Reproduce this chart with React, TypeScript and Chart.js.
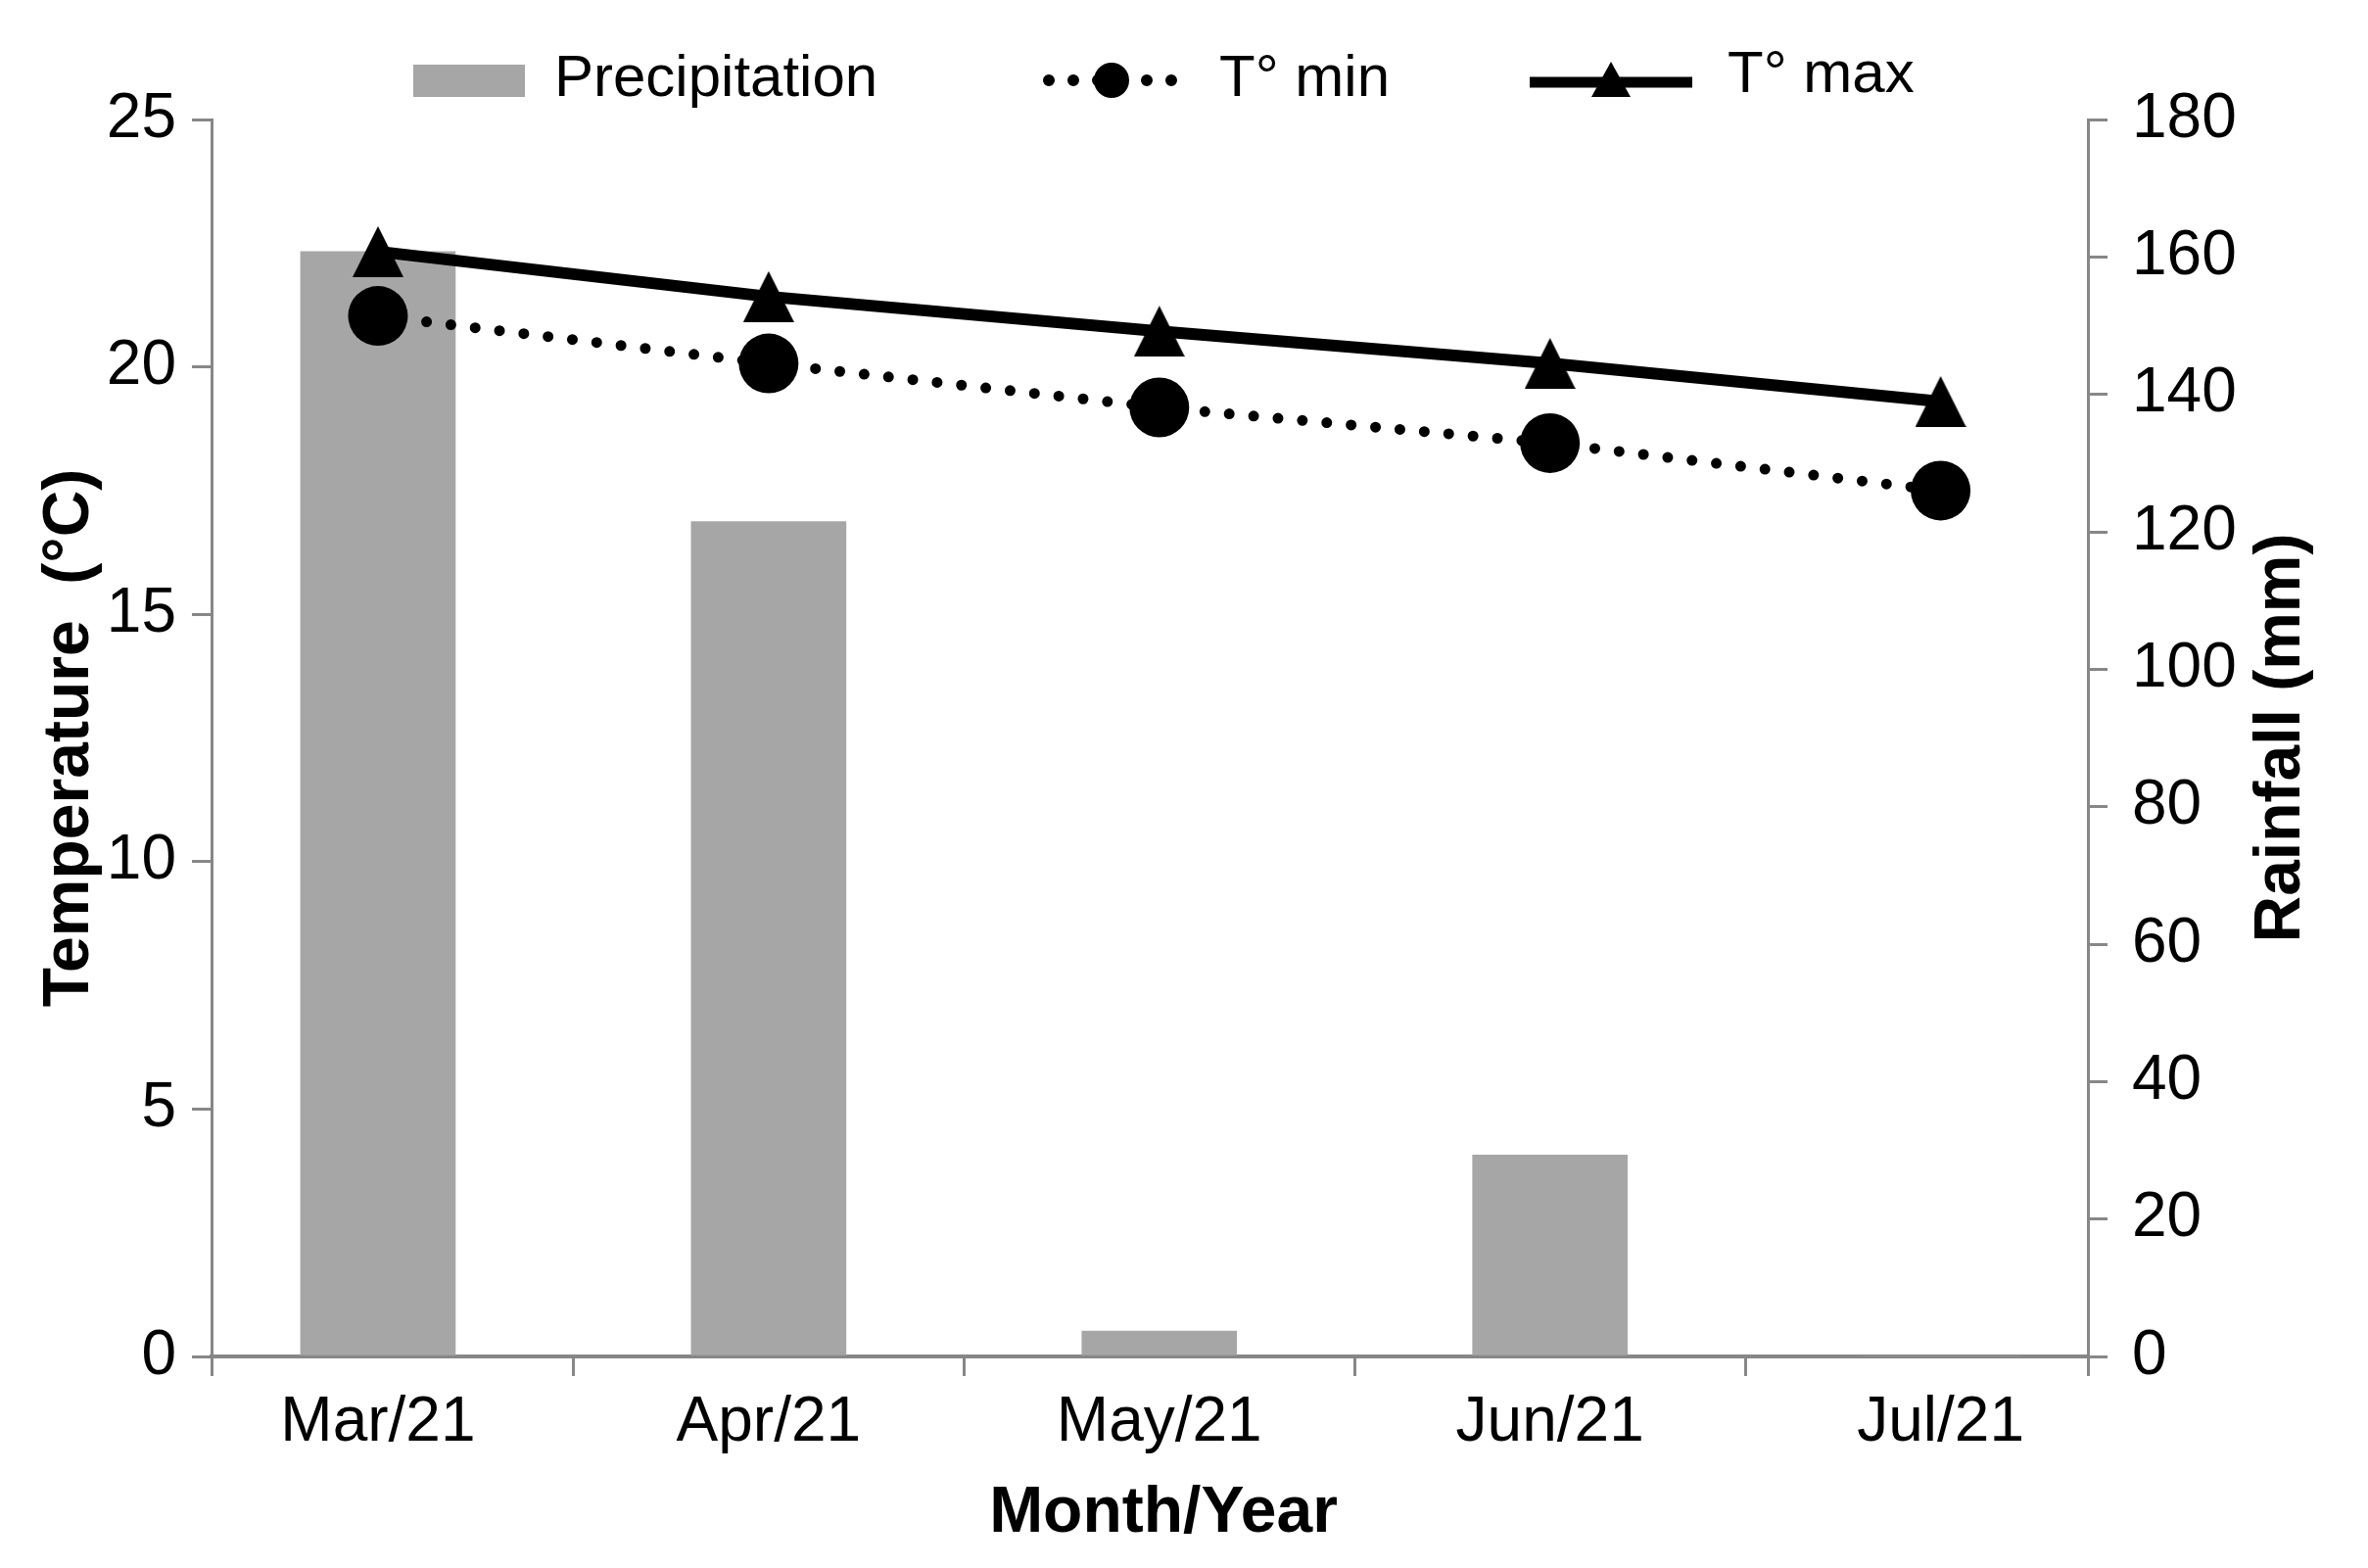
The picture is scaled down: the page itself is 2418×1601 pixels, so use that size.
import React, { useEffect, useRef } from 'react';
import { Chart, registerables } from 'chart.js';

Chart.register(...registerables);

// ---- data ----
const categories = ['Mar/21', 'Apr/21', 'May/21', 'Jun/21', 'Jul/21'];
const precipitation = [160.8, 121.5, 3.7, 29.3, 0];
const tMin = [21.03, 20.07, 19.18, 18.46, 17.5];
const tMax = [22.33, 21.42, 20.72, 20.07, 19.3];
const tempTicks = [0, 5, 10, 15, 20, 25];
const rainTicks = [0, 20, 40, 60, 80, 100, 120, 140, 160, 180];
const legendLabels = ['Precipitation', 'T° min', 'T° max'];
const xTitle = 'Month/Year';
const yTitle = 'Temperature  (°C)';
const y1Title = 'Rainfall (mm)';

// ---- style constants ----
const FONT = "'Liberation Sans', Arial, Helvetica, sans-serif";
const BAR_COLOR = '#a6a6a6';
const AXIS_COLOR = '#878787';
const X_MIN = -0.426;
const X_MAX = 4.377;

function makeTriangle(w: number, h: number) {
  const c = document.createElement('canvas');
  c.width = w;
  c.height = h;
  const g = c.getContext('2d')!;
  g.fillStyle = '#000';
  g.beginPath();
  g.moveTo(w / 2, 0);
  g.lineTo(w, h);
  g.lineTo(0, h);
  g.closePath();
  g.fill();
  return c;
}

const legendPlugin = {
  id: 'customLegend',
  afterDraw(chart: any) {
    const ctx = chart.ctx as CanvasRenderingContext2D;
    ctx.save();
    ctx.font = `60px ${FONT}`;
    ctx.fillStyle = '#000';
    ctx.textBaseline = 'middle';
    ctx.textAlign = 'left';

    // Precipitation
    ctx.fillStyle = BAR_COLOR;
    ctx.fillRect(422, 66, 114, 33);
    ctx.fillStyle = '#000';
    ctx.fillText(legendLabels[0], 566, 81);

    // T min
    ctx.strokeStyle = '#000';
    ctx.lineWidth = 12;
    ctx.lineCap = 'round';
    ctx.setLineDash([0, 25]);
    ctx.beginPath();
    ctx.moveTo(1071, 82);
    ctx.lineTo(1200, 82);
    ctx.stroke();
    ctx.setLineDash([]);
    ctx.beginPath();
    ctx.arc(1135, 82, 18, 0, Math.PI * 2);
    ctx.fill();
    ctx.fillText(legendLabels[1], 1245, 81);

    // T max
    ctx.lineCap = 'butt';
    ctx.lineWidth = 11;
    ctx.beginPath();
    ctx.moveTo(1562, 84);
    ctx.lineTo(1728, 84);
    ctx.stroke();
    ctx.beginPath();
    ctx.moveTo(1645, 63);
    ctx.lineTo(1665, 99);
    ctx.lineTo(1625, 99);
    ctx.closePath();
    ctx.fill();
    ctx.fillText(legendLabels[2], 1764, 77);

    // x axis title
    ctx.font = `bold 66px ${FONT}`;
    ctx.textAlign = 'center';
    ctx.fillText(xTitle, 1188, 1546);

    // right axis title (reads bottom to top)
    const area = chart.chartArea;
    ctx.translate(2330, (area.top + area.bottom) / 2);
    ctx.rotate(-Math.PI / 2);
    ctx.fillText(y1Title, 0, 0);
    ctx.restore();
  },
};

export default function App() {
  const ref = useRef<HTMLCanvasElement>(null);

  useEffect(() => {
    if (!ref.current) return;
    Chart.defaults.font.family = FONT;
    Chart.defaults.color = '#000';
    const tri = makeTriangle(52, 52);

    const xTickValues = [
      X_MIN,
      ...categories.map((_, i) => i),
      ...categories.slice(0, -1).map((_, i) => i + 0.5),
      X_MAX,
    ].sort((a, b) => a - b);

    const chart = new Chart(ref.current, {
      type: 'bar',
      data: {
        datasets: [
          {
            type: 'line',
            label: legendLabels[1],
            data: tMin.map((v, i) => ({ x: i, y: v })),
            yAxisID: 'y',
            xAxisID: 'x',
            borderColor: '#000',
            borderWidth: 11,
            borderDash: [0, 25],
            borderCapStyle: 'round',
            pointStyle: 'circle',
            pointRadius: 30.5,
            pointBackgroundColor: '#000',
            pointBorderWidth: 0,
            tension: 0,
            order: 0,
          } as any,
          {
            type: 'line',
            label: legendLabels[2],
            data: tMax.map((v, i) => ({ x: i, y: v })),
            yAxisID: 'y',
            xAxisID: 'x',
            borderColor: '#000',
            borderWidth: 12,
            pointStyle: tri,
            pointRadius: 26,
            pointBackgroundColor: '#000',
            pointBorderWidth: 0,
            tension: 0,
            order: 0,
          } as any,
          {
            type: 'bar',
            label: legendLabels[0],
            data: precipitation.map((v, i) => ({ x: i, y: v })),
            yAxisID: 'y1',
            xAxisID: 'x',
            backgroundColor: BAR_COLOR,
            borderWidth: 0,
            barThickness: 158,
            order: 1,
          } as any,
        ],
      },
      options: {
        animation: false,
        responsive: true,
        maintainAspectRatio: false,
        devicePixelRatio: 1,
        layout: { padding: { top: 122, left: 0, right: 0, bottom: 0 } },
        plugins: {
          legend: { display: false },
          tooltip: { enabled: false },
        },
        scales: {
          x: {
            type: 'linear',
            position: 'bottom',
            min: X_MIN,
            max: X_MAX,
            offset: false,
            z: 1,
            afterBuildTicks: (scale: any) => {
              scale.ticks = xTickValues.map((v) => ({ value: v }));
            },
            afterFit: (scale: any) => {
              scale.height = 216;
            },
            ticks: {
              autoSkip: false,
              maxRotation: 0,
              minRotation: 0,
              padding: 10,
              font: { size: 64 },
              color: '#000',
              callback: (value: any) =>
                Number.isInteger(value) ? categories[value] : '',
            },
            grid: {
              offset: false,
              drawOnChartArea: false,
              drawTicks: true,
              tickLength: 20,
              lineWidth: 3,
              tickWidth: 3,
              color: AXIS_COLOR,
              tickColor: (ctx: any) =>
                ctx.tick && Number.isInteger(ctx.tick.value) ? 'rgba(0,0,0,0)' : AXIS_COLOR,
            },
            border: { display: true, color: AXIS_COLOR, width: 4 },
            title: { display: false, text: xTitle },
          } as any,
          y: {
            type: 'linear',
            position: 'left',
            min: 0,
            max: 25,
            afterBuildTicks: (scale: any) => {
              scale.ticks = tempTicks.map((v) => ({ value: v }));
            },
            afterFit: (scale: any) => {
              scale.width = 216;
            },
            ticks: {
              padding: 16,
              font: { size: 64 },
              color: '#000',
            },
            grid: {
              drawOnChartArea: false,
              drawTicks: true,
              tickLength: 20,
              lineWidth: 3,
              tickWidth: 3,
              color: AXIS_COLOR,
            },
            border: { display: true, color: AXIS_COLOR, width: 3 },
            title: {
              display: true,
              text: yTitle,
              font: { size: 66, weight: 'bold' },
              color: '#000',
              padding: { top: 32, bottom: 0 },
            },
          } as any,
          y1: {
            type: 'linear',
            position: 'right',
            min: 0,
            max: 180,
            afterBuildTicks: (scale: any) => {
              scale.ticks = rainTicks.map((v) => ({ value: v }));
            },
            afterFit: (scale: any) => {
              scale.width = 286;
            },
            ticks: {
              padding: 25,
              font: { size: 64 },
              color: '#000',
            },
            grid: {
              drawOnChartArea: false,
              drawTicks: true,
              tickLength: 20,
              lineWidth: 3,
              tickWidth: 3,
              color: AXIS_COLOR,
            },
            border: { display: true, color: AXIS_COLOR, width: 3 },
            title: { display: false, text: y1Title },
          } as any,
        },
      },
      plugins: [legendPlugin],
    });

    return () => chart.destroy();
  }, []);

  return (
    <div
      style={{
        position: 'fixed',
        left: 0,
        top: 0,
        width: 2418,
        height: 1601,
        background: '#fff',
      }}
    >
      <canvas ref={ref} />
    </div>
  );
}
